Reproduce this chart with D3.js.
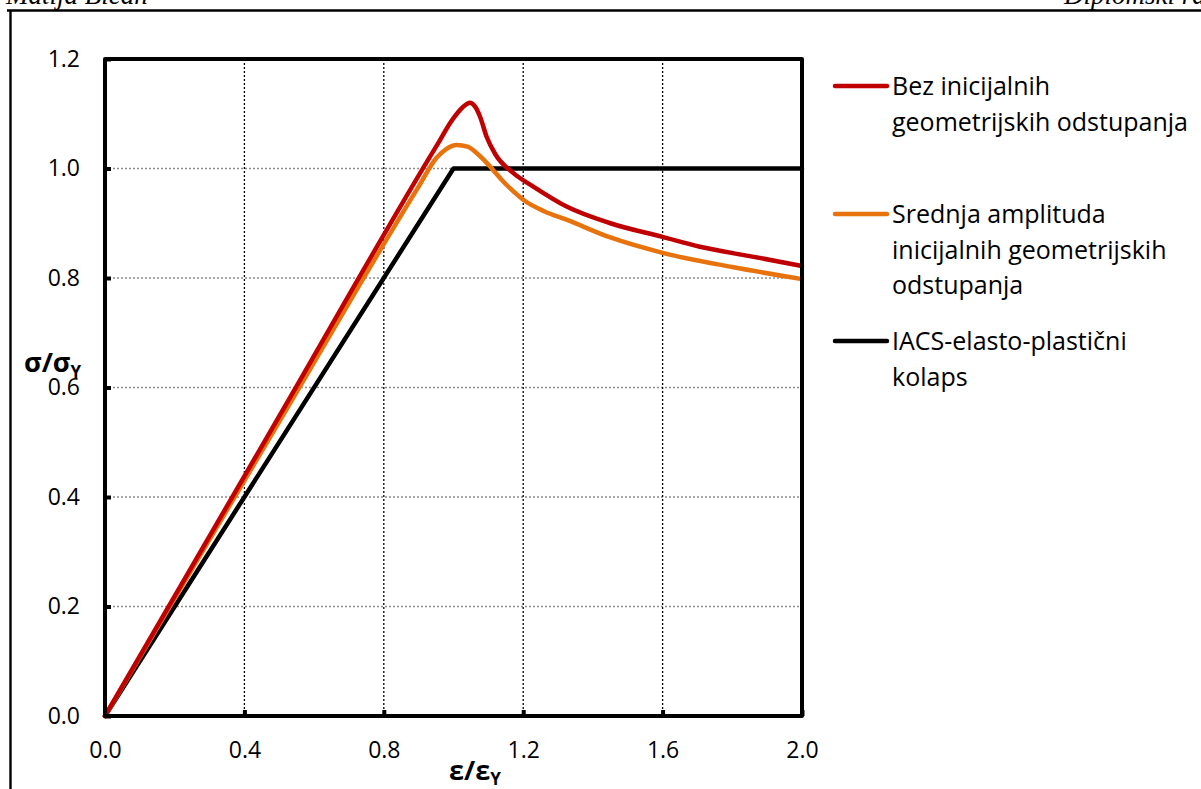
<!DOCTYPE html>
<html><head><meta charset="utf-8">
<script src="https://cdn.jsdelivr.net/npm/d3@7"></script>
<style>body{margin:0;background:#fff}svg{display:block}</style>
</head><body>
<svg id="c" width="1201" height="789"></svg>
<script>
const xTicks = [0.0, 0.4, 0.8, 1.2, 1.6, 2.0];
const yTicks = [0.0, 0.2, 0.4, 0.6, 0.8, 1.0, 1.2];
const seriesNames = ["Bez inicijalnih|geometrijskih odstupanja", "Srednja amplituda|inicijalnih geometrijskih|odstupanja", "IACS-elasto-plastični|kolaps"];
const seriesColors = ["#c00000", "#e8720c", "#000000"];
const redX = [0, 0.5, 0.95, 1.0, 1.025, 1.047, 1.062, 1.076, 1.095, 1.12, 1.171, 1.229, 1.326, 1.45, 1.6, 1.707, 1.85, 2.0];
const redY = [0, 0.5475, 1.04, 1.092, 1.111, 1.12, 1.113, 1.095, 1.058, 1.026, 0.992, 0.967, 0.93, 0.9, 0.875, 0.857, 0.84, 0.822];
const orangeX = [0, 0.5, 0.9, 0.952, 0.98, 1.01, 1.04, 1.067, 1.09, 1.114, 1.14, 1.162, 1.202, 1.26, 1.326, 1.45, 1.6, 1.8, 2.0];
const orangeY = [0, 0.5375, 0.967, 1.02, 1.036, 1.043, 1.04, 1.028, 1.014, 0.997, 0.978, 0.964, 0.942, 0.922, 0.906, 0.874, 0.846, 0.82, 0.798];
const blackX = [0, 1.0, 2.0];
const blackY = [0, 1.0, 1.0];

const svg = d3.select("#c");
const L = 105, R = 802, T = 59, B = 716;
const x = d3.scaleLinear().domain([0, 2]).range([L, R]);
const y = d3.scaleLinear().domain([0, 1.2]).range([B, T]);

// page header
svg.append("text").attr("x", 6).attr("y", 4).attr("font-family", "Liberation Serif").attr("font-style", "italic").attr("font-size", 27).text("Matija Bičan");
svg.append("text").attr("x", 1064).attr("y", 4).attr("font-family", "Liberation Serif").attr("font-style", "italic").attr("font-size", 27).text("Diplomski rad");
svg.append("line").attr("x1", 7).attr("x2", 1201).attr("y1", 10.5).attr("y2", 10.5).attr("stroke", "#000").attr("stroke-width", 2.6);
svg.append("line").attr("x1", 10.5).attr("x2", 10.5).attr("y1", 10).attr("y2", 789).attr("stroke", "#000").attr("stroke-width", 2.4);

// gridlines
svg.append("g").selectAll("line").data(yTicks.filter(d => d > 0 && d < 1.2)).join("line")
  .attr("x1", L).attr("x2", R).attr("y1", d => y(d)).attr("y2", d => y(d))
  .attr("stroke", "#8c8c8c").attr("stroke-width", 1.3).attr("stroke-dasharray", "2,2");
svg.append("g").selectAll("line").data(xTicks.filter(d => d > 0 && d < 2)).join("line")
  .attr("y1", T).attr("y2", B).attr("x1", d => x(d)).attr("x2", d => x(d))
  .attr("stroke", "#000").attr("stroke-width", 1.3).attr("stroke-dasharray", "2,2");

// axes
const fontT = "'Open Sans', Lato, sans-serif";
const gx = svg.append("g").attr("transform", `translate(0,${B})`)
  .call(d3.axisBottom(x).tickValues(xTicks).tickFormat(d3.format(".1f")).tickSize(-6).tickPadding(26));
const gy = svg.append("g").attr("transform", `translate(${L},0)`)
  .call(d3.axisLeft(y).tickValues(yTicks).tickFormat(d3.format(".1f")).tickSize(-6).tickPadding(25));
[gx, gy].forEach(g => {
  g.select(".domain").remove();
  g.selectAll(".tick line").attr("stroke", "#000").attr("stroke-width", 4);
  g.selectAll("text").attr("font-family", fontT).attr("font-size", 23).attr("fill", "#000");
});

// curves
const smooth = d3.line().x(d => x(d[0])).y(d => y(d[1])).curve(d3.curveMonotoneX);
const straight = d3.line().x(d => x(d[0])).y(d => y(d[1]));
const seriesData = [d3.zip(redX, redY), d3.zip(orangeX, orangeY), d3.zip(blackX, blackY)];
[2, 1, 0].forEach(i => {
  svg.append("path").attr("d", (i === 2 ? straight : smooth)(seriesData[i]))
    .attr("fill", "none").attr("stroke", seriesColors[i]).attr("stroke-width", 4.5).attr("stroke-linejoin", "round").attr("stroke-linecap", "round");
});

// plot frame
svg.append("rect").attr("x", L).attr("y", T).attr("width", R - L).attr("height", B - T)
  .attr("fill", "none").attr("stroke", "#000").attr("stroke-width", 4).attr("stroke-linejoin", "round");

// axis titles
const yt = svg.append("text").attr("x", 24).attr("y", 372).attr("font-family", fontT).attr("font-weight", "bold").attr("font-size", 27);
yt.append("tspan").text("σ/σ");
yt.append("tspan").attr("font-size", 17).attr("dy", 6).text("Y");
const xt = svg.append("text").attr("x", 449).attr("y", 780).attr("font-family", fontT).attr("font-weight", "bold").attr("font-size", 27);
xt.append("tspan").text("ε/ε");
xt.append("tspan").attr("font-size", 17).attr("dy", 5).text("Y");

// legend
const legY = [86, 214, 341];
seriesNames.forEach((name, i) => {
  const g = svg.append("g");
  g.append("line").attr("x1", 835).attr("x2", 887).attr("y1", legY[i]).attr("y2", legY[i])
    .attr("stroke", seriesColors[i]).attr("stroke-width", 4.5).attr("stroke-linecap", "round");
  name.split("|").forEach((t, j) => {
    g.append("text").attr("x", 892).attr("y", legY[i] + 9 + j * 35.7).attr("font-family", fontT)
      .attr("font-size", 25).attr("fill", "#000").text(t);
  });
});
</script>
</body></html>
